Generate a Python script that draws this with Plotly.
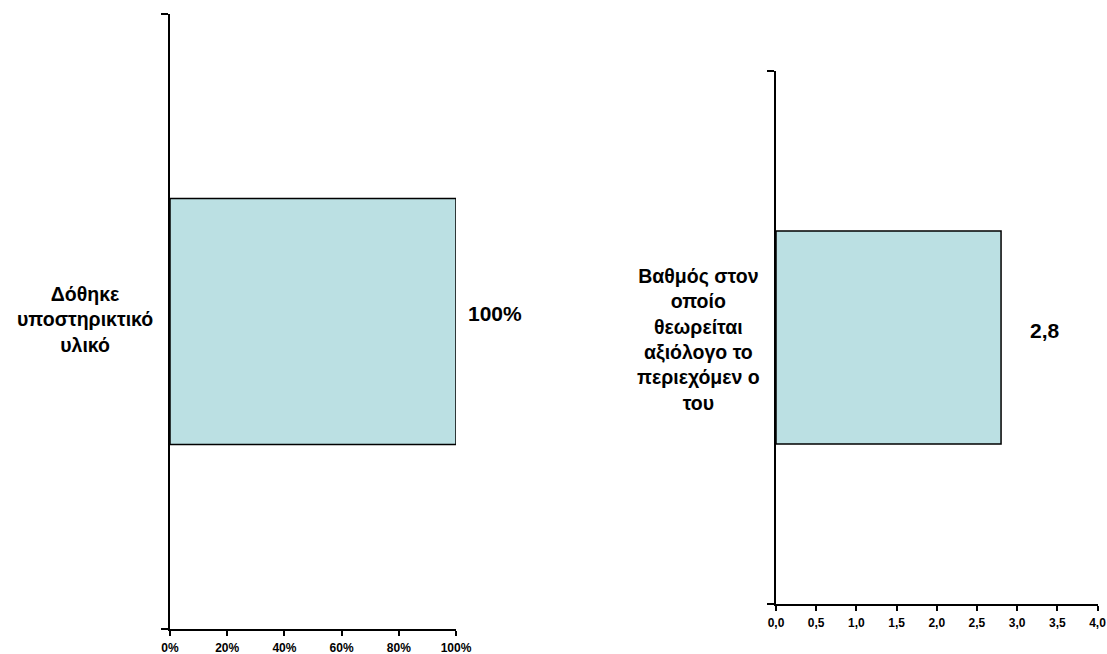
import plotly.graph_objects as go

# ---- data ----
left_categories = ["Δόθηκε<br>υποστηρικτικό<br>υλικό"]
left_values = [1.0]
left_tickvals = [0, 0.2, 0.4, 0.6, 0.8, 1.0]

right_categories = ["Βαθμός στον<br>οποίο<br>θεωρείται<br>αξιόλογο το<br>περιεχόμεν ο<br>του"]
right_values = [2.8]
right_tickvals = [0, 0.5, 1.0, 1.5, 2.0, 2.5, 3.0, 3.5, 4.0]

W, H = 1107, 654
FONT = "Liberation Sans, Arial, sans-serif"
BAR_COLOR = "#BBE0E3"

fig = go.Figure()
fig.add_trace(go.Bar(x=left_values, y=left_categories, orientation="h", width=0.4,
                     marker=dict(color=BAR_COLOR, line=dict(color="black", width=1.5)),
                     xaxis="x", yaxis="y", showlegend=False, hoverinfo="skip"))
fig.add_trace(go.Bar(x=right_values, y=right_categories, orientation="h", width=0.4,
                     marker=dict(color=BAR_COLOR, line=dict(color="black", width=1.5)),
                     xaxis="x2", yaxis="y2", showlegend=False, hoverinfo="skip"))

def px_dom(a, b, total):
    return [a / total, b / total]

tickfont = dict(family=FONT, size=12, color="black", weight="bold")
common_x = dict(showline=True, linecolor="black", linewidth=2, ticks="outside", ticklen=5,
                tickwidth=2, tickcolor="black", showgrid=False, zeroline=False,
                tickfont=tickfont, fixedrange=True, automargin=False,
                ticklabelstandoff=2)
common_y = dict(showline=True, linecolor="black", linewidth=2, ticks="outside", ticklen=7,
                tickwidth=2, tickcolor="black", showgrid=False, zeroline=False,
                showticklabels=False, tickson="boundaries", type="category",
                range=[-0.5, 0.5], fixedrange=True, automargin=False)

fig.update_layout(
    template="none",
    width=W, height=H, autosize=False,
    margin=dict(l=0, r=0, t=0, b=0, pad=0),
    paper_bgcolor="white", plot_bgcolor="white",
    separators=",.",
    xaxis=dict(common_x, domain=px_dom(170, 456, W), range=[0, 1], tickvals=left_tickvals,
               tickformat=".0%", anchor="y"),
    yaxis=dict(common_y, domain=[(H - 629) / H, (H - 14) / H], anchor="x"),
    xaxis2=dict(common_x, domain=px_dom(776, 1097.5, W), range=[0, 4], tickvals=right_tickvals,
                tickformat=".1f", anchor="y2"),
    yaxis2=dict(common_y, domain=[(H - 604) / H, (H - 71) / H], anchor="x2"),
)

annotations = []
# category labels
annotations.append(dict(x=0, xref="x domain", y=left_categories[0], yref="y",
                        text=left_categories[0], showarrow=False, xanchor="right",
                        align="center", xshift=-15, yshift=2,
                        font=dict(family=FONT, size=19.5, color="black", weight="bold")))
annotations.append(dict(x=0, xref="x2 domain", y=right_categories[0], yref="y2",
                        text=right_categories[0], showarrow=False, xanchor="right",
                        align="center", xshift=-14, yshift=-2,
                        font=dict(family=FONT, size=19.5, color="black", weight="bold")))
# value labels
annotations.append(dict(x=left_values[0], xref="x", y=left_categories[0], yref="y",
                        text=f"{left_values[0]:.0%}", showarrow=False, xanchor="left",
                        xshift=10, yshift=8,
                        font=dict(family=FONT, size=21, color="black", weight="bold")))
annotations.append(dict(x=right_values[0], xref="x2", y=right_categories[0], yref="y2",
                        text=f"{right_values[0]:.1f}".replace(".", ","), showarrow=False,
                        xanchor="left", xshift=27, yshift=7,
                        font=dict(family=FONT, size=21, color="black", weight="bold")))
fig.update_layout(annotations=annotations)

fig.write_html("out.html", config={"responsive": False, "displayModeBar": False},
               post_script="document.body.style.margin='0';document.body.style.overflow='hidden';")
